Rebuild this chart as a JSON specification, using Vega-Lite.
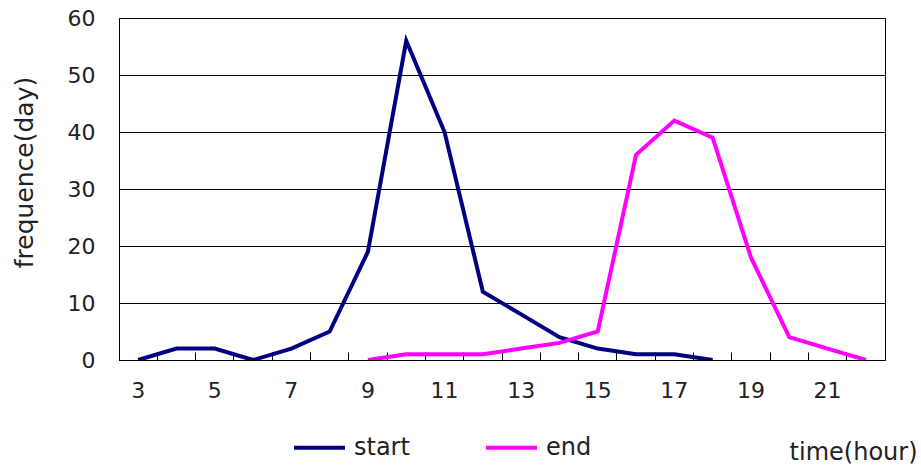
{
  "$schema": "https://vega.github.io/schema/vega-lite/v6.json",
  "autosize": "none",
  "width": 766,
  "height": 342,
  "padding": {"left": 119, "top": 18, "right": 36, "bottom": 107},
  "background": "white",
  "config": {
    "font": "DejaVu Sans",
    "view": {"stroke": "black", "strokeWidth": 1},
    "axis": {"labelColor": "#222", "titleColor": "#222", "titleFontWeight": "normal", "domainColor": "black", "tickColor": "black"}
  },
  "data": {
    "values": [
      {"hour": 3, "series": "start", "value": 0},
      {"hour": 4, "series": "start", "value": 2},
      {"hour": 5, "series": "start", "value": 2},
      {"hour": 6, "series": "start", "value": 0},
      {"hour": 7, "series": "start", "value": 2},
      {"hour": 8, "series": "start", "value": 5},
      {"hour": 9, "series": "start", "value": 19},
      {"hour": 10, "series": "start", "value": 56},
      {"hour": 11, "series": "start", "value": 40},
      {"hour": 12, "series": "start", "value": 12},
      {"hour": 13, "series": "start", "value": 8},
      {"hour": 14, "series": "start", "value": 4},
      {"hour": 15, "series": "start", "value": 2},
      {"hour": 16, "series": "start", "value": 1},
      {"hour": 17, "series": "start", "value": 1},
      {"hour": 18, "series": "start", "value": 0},
      {"hour": 9, "series": "end", "value": 0},
      {"hour": 10, "series": "end", "value": 1},
      {"hour": 11, "series": "end", "value": 1},
      {"hour": 12, "series": "end", "value": 1},
      {"hour": 13, "series": "end", "value": 2},
      {"hour": 14, "series": "end", "value": 3},
      {"hour": 15, "series": "end", "value": 5},
      {"hour": 16, "series": "end", "value": 36},
      {"hour": 17, "series": "end", "value": 42},
      {"hour": 18, "series": "end", "value": 39},
      {"hour": 19, "series": "end", "value": 18},
      {"hour": 20, "series": "end", "value": 4},
      {"hour": 21, "series": "end", "value": 2},
      {"hour": 22, "series": "end", "value": 0}
    ]
  },
  "mark": {"type": "line", "strokeWidth": 4, "strokeJoin": "miter", "clip": true},
  "encoding": {
    "x": {
      "field": "hour",
      "type": "ordinal",
      "scale": {"type": "band", "paddingInner": 0, "paddingOuter": 0, "domain": [3,4,5,6,7,8,9,10,11,12,13,14,15,16,17,18,19,20,21,22]},
      "axis": {
        "labelExpr": "datum.value % 2 == 1 ? datum.label : ''",
        "labelAngle": 0,
        "labelOverlap": false,
        "labelFontSize": 22,
        "labelPadding": 28,
        "bandPosition": 0,
        "tickSize": -8,
        "title": "time(hour)",
        "titleFontSize": 24,
        "titleAlign": "right",
        "titleBaseline": "middle",
        "titleAnchor": "end",
        "titleX": 798,
        "titleY": 92
      }
    },
    "y": {
      "field": "value",
      "type": "quantitative",
      "scale": {"domain": [0, 60], "nice": false},
      "axis": {
        "values": [0, 10, 20, 30, 40, 50, 60],
        "grid": true,
        "gridColor": "black",
        "gridOpacity": 1,
        "gridWidth": 1,
        "ticks": false,
        "labelFontSize": 22,
        "labelPadding": 24,
        "title": "frequence(day)",
        "titleFontSize": 25,
        "titleAngle": 270,
        "titleAlign": "center",
        "titleBaseline": "middle",
        "titleX": -95,
        "titleY": 154
      }
    },
    "color": {
      "field": "series",
      "type": "nominal",
      "scale": {"domain": ["start", "end"], "range": ["#000080", "#FF00FF"]},
      "legend": {
        "title": null,
        "orient": "none",
        "direction": "horizontal",
        "legendX": 173,
        "legendY": 402,
        "symbolType": "stroke",
        "symbolSize": 2601,
        "symbolStrokeWidth": 4,
        "labelFontSize": 24,
        "labelColor": "#222",
        "labelOffset": 7,
        "labelLimit": 200,
        "columnPadding": 68,
        "padding": 0
      }
    }
  }
}
